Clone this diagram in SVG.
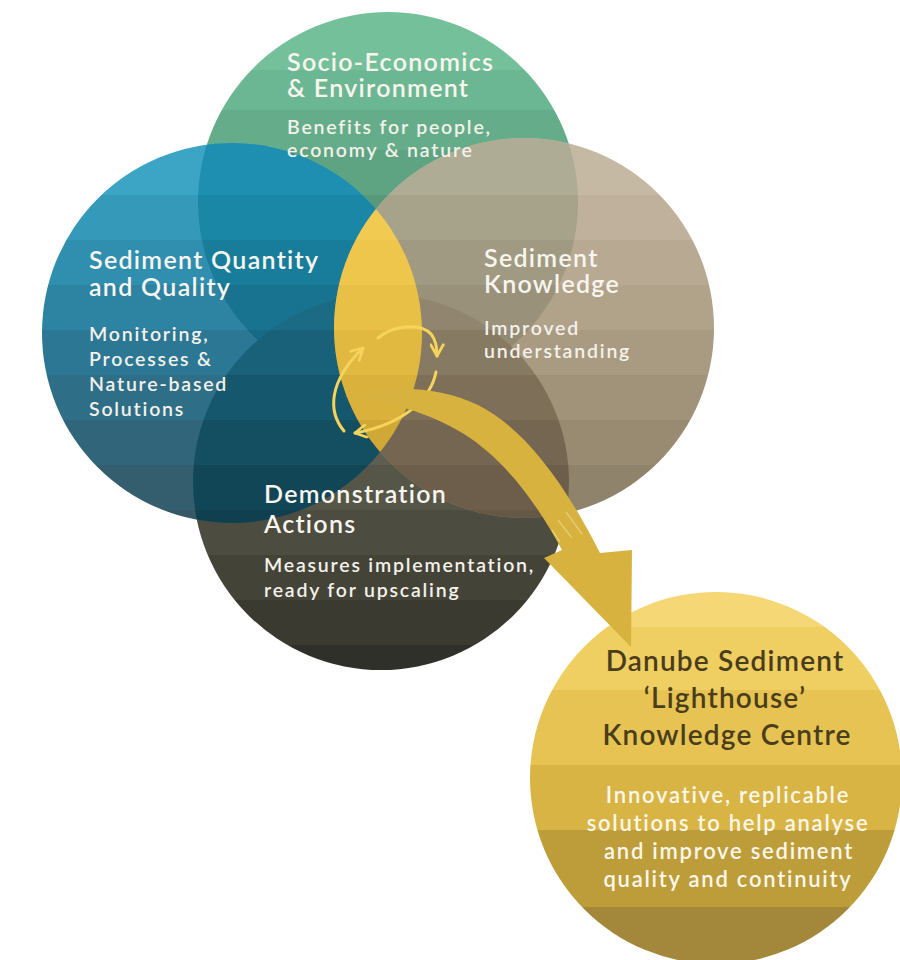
<svg xmlns="http://www.w3.org/2000/svg" width="900" height="960" viewBox="0 0 900 960">
  <defs>
    <style>
      .title { font-family: Lato, "Open Sans", "DejaVu Sans", sans-serif; font-weight: 600; font-size: 25px; fill: #f8f5ee; letter-spacing: 1.3px; }
      .sub { font-family: Lato, "Open Sans", "DejaVu Sans", sans-serif; font-weight: 600; font-size: 19.5px; fill: #f4f1ea; letter-spacing: 1.8px; }
      .ytitle { font-family: Lato, "Open Sans", "DejaVu Sans", sans-serif; font-weight: 600; font-size: 28px; fill: #4a3d1b; text-anchor: middle; letter-spacing: 1.2px; }
      .ysub { font-family: Lato, "Open Sans", "DejaVu Sans", sans-serif; font-weight: 600; font-size: 22px; fill: #fbf7ea; text-anchor: middle; letter-spacing: 1.75px; }
      .cycle { fill: none; stroke: #f6d45c; stroke-width: 3; stroke-linecap: round; marker-end: url(#chev); }
    </style>

    <!-- circle geometry -->
    <circle id="cG" cx="388" cy="202" r="190"/>
    <circle id="cB" cx="232" cy="333" r="190"/>
    <circle id="cT" cx="524" cy="328" r="190"/>
    <circle id="cD" cx="381" cy="482" r="188"/>

    <clipPath id="clipG"><use href="#cG"/></clipPath>
    <clipPath id="clipB"><use href="#cB"/></clipPath>
    <clipPath id="clipD"><use href="#cD"/></clipPath>

    <!-- banded fills: hard stops at shared band edges -->
    <linearGradient id="gGreen" gradientUnits="userSpaceOnUse" x1="0" y1="0" x2="0" y2="960">
      <stop offset="0" stop-color="#74c09b"/><stop offset="0.0729" stop-color="#74c09b"/>
      <stop offset="0.0729" stop-color="#6cb793"/><stop offset="0.1146" stop-color="#6cb793"/>
      <stop offset="0.1146" stop-color="#65ad8a"/><stop offset="0.1563" stop-color="#65ad8a"/>
      <stop offset="0.1563" stop-color="#5ea483"/><stop offset="0.2031" stop-color="#5ea483"/>
      <stop offset="0.2031" stop-color="#579a7b"/><stop offset="0.25" stop-color="#579a7b"/>
      <stop offset="0.25" stop-color="#519173"/><stop offset="0.2969" stop-color="#519173"/>
      <stop offset="0.2969" stop-color="#4b886c"/><stop offset="1" stop-color="#4b886c"/>
    </linearGradient>
    <linearGradient id="gBlue" gradientUnits="userSpaceOnUse" x1="0" y1="0" x2="0" y2="960">
      <stop offset="0" stop-color="#3ca4c5"/><stop offset="0.2031" stop-color="#3ca4c5"/>
      <stop offset="0.2031" stop-color="#3599ba"/><stop offset="0.25" stop-color="#3599ba"/>
      <stop offset="0.25" stop-color="#308eae"/><stop offset="0.2969" stop-color="#308eae"/>
      <stop offset="0.2969" stop-color="#2c83a2"/><stop offset="0.3438" stop-color="#2c83a2"/>
      <stop offset="0.3438" stop-color="#2c7894"/><stop offset="0.3906" stop-color="#2c7894"/>
      <stop offset="0.3906" stop-color="#2e6e86"/><stop offset="0.4375" stop-color="#2e6e86"/>
      <stop offset="0.4375" stop-color="#316579"/><stop offset="0.4844" stop-color="#316579"/>
      <stop offset="0.4844" stop-color="#345d6e"/><stop offset="0.5313" stop-color="#345d6e"/>
      <stop offset="0.5313" stop-color="#375766"/><stop offset="1" stop-color="#375766"/>
    </linearGradient>
    <linearGradient id="gTan" gradientUnits="userSpaceOnUse" x1="0" y1="0" x2="0" y2="960">
      <stop offset="0" stop-color="#c6b9a4"/><stop offset="0.2031" stop-color="#c6b9a4"/>
      <stop offset="0.2031" stop-color="#bfb19b"/><stop offset="0.25" stop-color="#bfb19b"/>
      <stop offset="0.25" stop-color="#b8a992"/><stop offset="0.2969" stop-color="#b8a992"/>
      <stop offset="0.2969" stop-color="#b1a28a"/><stop offset="0.3438" stop-color="#b1a28a"/>
      <stop offset="0.3438" stop-color="#a99a82"/><stop offset="0.3906" stop-color="#a99a82"/>
      <stop offset="0.3906" stop-color="#a19379"/><stop offset="0.4375" stop-color="#a19379"/>
      <stop offset="0.4375" stop-color="#988b72"/><stop offset="0.4844" stop-color="#988b72"/>
      <stop offset="0.4844" stop-color="#8f836c"/><stop offset="0.5313" stop-color="#8f836c"/>
      <stop offset="0.5313" stop-color="#877c68"/><stop offset="1" stop-color="#877c68"/>
    </linearGradient>
    <linearGradient id="gDark" gradientUnits="userSpaceOnUse" x1="0" y1="0" x2="0" y2="960">
      <stop offset="0" stop-color="#5e5e50"/><stop offset="0.4844" stop-color="#5e5e50"/>
      <stop offset="0.4844" stop-color="#555648"/><stop offset="0.5313" stop-color="#555648"/>
      <stop offset="0.5313" stop-color="#4c4c40"/><stop offset="0.5781" stop-color="#4c4c40"/>
      <stop offset="0.5781" stop-color="#434338"/><stop offset="0.625" stop-color="#434338"/>
      <stop offset="0.625" stop-color="#3a3a31"/><stop offset="0.6719" stop-color="#3a3a31"/>
      <stop offset="0.6719" stop-color="#30302a"/><stop offset="1" stop-color="#30302a"/>
    </linearGradient>
    <linearGradient id="gGB" gradientUnits="userSpaceOnUse" x1="0" y1="0" x2="0" y2="960">
      <stop offset="0" stop-color="#1e8fb0"/><stop offset="0.2031" stop-color="#1e8fb0"/>
      <stop offset="0.2031" stop-color="#1a87a6"/><stop offset="0.25" stop-color="#1a87a6"/>
      <stop offset="0.25" stop-color="#187d9b"/><stop offset="0.2969" stop-color="#187d9b"/>
      <stop offset="0.2969" stop-color="#177390"/><stop offset="0.3438" stop-color="#177390"/>
      <stop offset="0.3438" stop-color="#166a85"/><stop offset="1" stop-color="#166a85"/>
    </linearGradient>
    <linearGradient id="gGT" gradientUnits="userSpaceOnUse" x1="0" y1="0" x2="0" y2="960">
      <stop offset="0" stop-color="#aeac94"/><stop offset="0.2031" stop-color="#aeac94"/>
      <stop offset="0.2031" stop-color="#a7a28a"/><stop offset="0.25" stop-color="#a7a28a"/>
      <stop offset="0.25" stop-color="#a09a82"/><stop offset="0.2969" stop-color="#a09a82"/>
      <stop offset="0.2969" stop-color="#99917a"/><stop offset="0.3438" stop-color="#99917a"/>
      <stop offset="0.3438" stop-color="#938a73"/><stop offset="1" stop-color="#938a73"/>
    </linearGradient>
    <linearGradient id="gBD" gradientUnits="userSpaceOnUse" x1="0" y1="0" x2="0" y2="960">
      <stop offset="0" stop-color="#1b6b84"/><stop offset="0.3438" stop-color="#1b6b84"/>
      <stop offset="0.3438" stop-color="#186178"/><stop offset="0.3906" stop-color="#186178"/>
      <stop offset="0.3906" stop-color="#15576c"/><stop offset="0.4375" stop-color="#15576c"/>
      <stop offset="0.4375" stop-color="#134e61"/><stop offset="0.4844" stop-color="#134e61"/>
      <stop offset="0.4844" stop-color="#114657"/><stop offset="0.5313" stop-color="#114657"/>
      <stop offset="0.5313" stop-color="#10404f"/><stop offset="1" stop-color="#10404f"/>
    </linearGradient>
    <linearGradient id="gTD" gradientUnits="userSpaceOnUse" x1="0" y1="0" x2="0" y2="960">
      <stop offset="0" stop-color="#918570"/><stop offset="0.3438" stop-color="#918570"/>
      <stop offset="0.3438" stop-color="#877a63"/><stop offset="0.3906" stop-color="#877a63"/>
      <stop offset="0.3906" stop-color="#7e6f59"/><stop offset="0.4375" stop-color="#7e6f59"/>
      <stop offset="0.4375" stop-color="#756651"/><stop offset="0.4844" stop-color="#756651"/>
      <stop offset="0.4844" stop-color="#6c5e4b"/><stop offset="0.5313" stop-color="#6c5e4b"/>
      <stop offset="0.5313" stop-color="#655946"/><stop offset="1" stop-color="#655946"/>
    </linearGradient>
    <linearGradient id="gLens" gradientUnits="userSpaceOnUse" x1="0" y1="0" x2="0" y2="960">
      <stop offset="0" stop-color="#f1ca52"/><stop offset="0.25" stop-color="#f1ca52"/>
      <stop offset="0.25" stop-color="#eec64c"/><stop offset="0.2969" stop-color="#eec64c"/>
      <stop offset="0.2969" stop-color="#e8c046"/><stop offset="0.3438" stop-color="#e8c046"/>
      <stop offset="0.3438" stop-color="#e1b940"/><stop offset="0.3906" stop-color="#e1b940"/>
      <stop offset="0.3906" stop-color="#d9b13b"/><stop offset="0.4375" stop-color="#d9b13b"/>
      <stop offset="0.4375" stop-color="#cfa836"/><stop offset="1" stop-color="#cfa836"/>
    </linearGradient>
    <linearGradient id="gHub" gradientUnits="userSpaceOnUse" x1="0" y1="0" x2="0" y2="960">
      <stop offset="0" stop-color="#f6d775"/><stop offset="0.6531" stop-color="#f6d775"/>
      <stop offset="0.6531" stop-color="#efce62"/><stop offset="0.7188" stop-color="#efce62"/>
      <stop offset="0.7188" stop-color="#e6c352"/><stop offset="0.7969" stop-color="#e6c352"/>
      <stop offset="0.7969" stop-color="#d8b444"/><stop offset="0.8646" stop-color="#d8b444"/>
      <stop offset="0.8646" stop-color="#bd9d39"/><stop offset="0.9448" stop-color="#bd9d39"/>
      <stop offset="0.9448" stop-color="#a3873a"/><stop offset="1" stop-color="#a3873a"/>
    </linearGradient>

    <marker id="chev" viewBox="0 0 10 10" refX="8.5" refY="5" markerWidth="15" markerHeight="15" markerUnits="userSpaceOnUse" orient="auto">
      <path d="M1,0.8 L8.5,5 L1,9.2" fill="none" stroke="#f6d45c" stroke-width="1.8" stroke-linecap="round" stroke-linejoin="round"/>
    </marker>
  </defs>

  <rect width="900" height="960" fill="#ffffff"/>

  <!-- four theme circles -->
  <g id="socio-economics">
    <use href="#cG" fill="url(#gGreen)"/>
  </g>
  <g id="demonstration">
    <use href="#cD" fill="url(#gDark)"/>
  </g>
  <g id="sediment-quantity">
    <use href="#cB" fill="url(#gBlue)"/>
  </g>
  <g id="sediment-knowledge">
    <use href="#cT" fill="url(#gTan)"/>
  </g>

  <!-- overlap zones -->
  <g id="overlaps">
    <use href="#cB" fill="url(#gGB)" clip-path="url(#clipG)"/>
    <use href="#cT" fill="url(#gGT)" clip-path="url(#clipG)"/>
    <use href="#cB" fill="url(#gBD)" clip-path="url(#clipD)"/>
    <use href="#cT" fill="url(#gTD)" clip-path="url(#clipD)"/>
    <use href="#cT" fill="url(#gLens)" clip-path="url(#clipB)"/>
  </g>

  <!-- knowledge centre -->
  <g id="lighthouse-centre">
    <circle cx="716" cy="778" r="186" fill="url(#gHub)"/>
    <text class="ytitle" x="725" y="671">Danube Sediment</text>
    <text class="ytitle" x="725" y="708">‘Lighthouse’</text>
    <text class="ytitle" x="727" y="745">Knowledge Centre</text>
    <text class="ysub" x="728" y="803">Innovative, replicable</text>
    <text class="ysub" x="728" y="831">solutions to help analyse</text>
    <text class="ysub" x="729" y="859">and improve sediment</text>
    <text class="ysub" x="728" y="887">quality and continuity</text>
  </g>

  <!-- labels -->
  <g id="socio-economics-label">
    <text class="title" x="287" y="71">Socio-Economics</text>
    <text class="title" x="287" y="97">&amp; Environment</text>
    <text class="sub" x="287" y="134">Benefits for people,</text>
    <text class="sub" x="287" y="157">economy &amp; nature</text>
  </g>
  <g id="sediment-quantity-label">
    <text class="title" x="89" y="269">Sediment Quantity</text>
    <text class="title" x="89" y="296">and Quality</text>
    <text class="sub" x="89" y="341">Monitoring,</text>
    <text class="sub" x="89" y="366">Processes &amp;</text>
    <text class="sub" x="89" y="391">Nature-based</text>
    <text class="sub" x="89" y="416">Solutions</text>
  </g>
  <g id="sediment-knowledge-label">
    <text class="title" x="484" y="267">Sediment</text>
    <text class="title" x="484" y="293">Knowledge</text>
    <text class="sub" x="484" y="335">Improved</text>
    <text class="sub" x="484" y="358">understanding</text>
  </g>
  <g id="demonstration-label">
    <text class="title" x="264" y="503">Demonstration</text>
    <text class="title" x="264" y="533">Actions</text>
    <text class="sub" x="264" y="572">Measures implementation,</text>
    <text class="sub" x="264" y="597">ready for upscaling</text>
  </g>

  <!-- connectors: exchange cycle and outflow to the knowledge centre -->
  <g id="connectors">
    <path class="cycle" d="M378,338 C392,326 420,322 431,334 C436,340 437,348 437,356"/>
    <path class="cycle" d="M436,372 C431,398 405,424 355,433"/>
    <path class="cycle" d="M344,431 C328,412 328,382 363,348"/>
    <path d="M345,396 C392,384 440,387 478,405 C520,426 560,474 600,553 L632,550 L631,647 L544,558 L562,550 C534,498 502,458 464,434 C428,412 388,401 345,396 Z" fill="#d7b23e"/>
    <path d="M558,520 L572,538 M566,512 L582,534 M552,530 L560,542" stroke="#f3e3a8" stroke-width="1.2" stroke-opacity="0.7" fill="none"/>
  </g>
</svg>
